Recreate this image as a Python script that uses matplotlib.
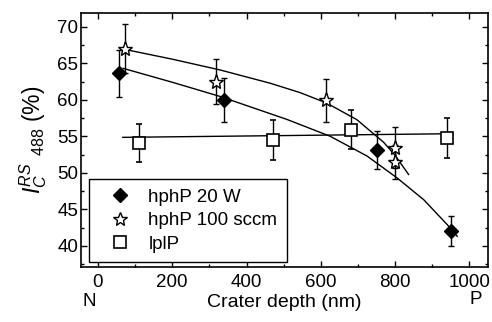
import numpy as np
import matplotlib
matplotlib.use('Agg')
import matplotlib.pyplot as plt
from matplotlib.ticker import MultipleLocator
from matplotlib.lines import Line2D

plt.rcParams['font.family'] = ['Liberation Sans', 'DejaVu Sans']
plt.rcParams['mathtext.fontset'] = 'custom'
plt.rcParams['mathtext.rm'] = 'Liberation Sans'
plt.rcParams['mathtext.it'] = 'Liberation Sans:italic'

# hphP 20 W (filled diamonds)
x_w = [57, 340, 751, 949]
y_w = [63.6, 60.0, 53.1, 42.0]
e_w = [3.2, 3.0, 2.6, 2.1]

# hphP 100 sccm (open stars)
x_s = [73, 318, 615, 800, 800]
y_s = [67.0, 62.5, 59.9, 53.4, 51.5]
e_s = [3.4, 3.1, 3.0, 2.8, 2.3]

# lplP (open squares)
x_l = [111, 470, 680, 940]
y_l = [54.1, 54.5, 55.9, 54.8]
e_l = [2.6, 2.7, 2.7, 2.75]

# fit curves
fx_w = [68, 200, 329, 509, 625, 724, 805, 877, 940, 967]
fy_w = [64.3, 62.4, 60.45, 57.3, 55.0, 52.3, 49.3, 46.3, 42.9, 41.3]
fx_s = [77, 200, 329, 464, 544, 616, 697, 769, 800, 836]
fy_s = [66.85, 65.56, 64.08, 62.26, 60.98, 59.54, 57.27, 54.17, 52.37, 49.77]
fx_l = [67, 955]
fy_l = [54.85, 55.35]

fig = plt.figure(figsize=(4.92, 3.22), dpi=100)
ax = fig.add_axes([0.165, 0.171, 0.827, 0.789])

ax.plot(fx_w, fy_w, 'k-', lw=1)
ax.plot(fx_s, fy_s, 'k-', lw=1)
ax.plot(fx_l, fy_l, 'k-', lw=1)

eb = dict(ecolor='k', elinewidth=1, capsize=2, capthick=1, linestyle='none')
ax.errorbar(x_w, y_w, yerr=e_w, marker='D', color='k', mfc='k', ms=7, **eb)
ax.errorbar(x_s, y_s, yerr=e_s, marker='*', color='k', mfc='white', ms=11, mew=1, **eb)
ax.errorbar(x_l, y_l, yerr=e_l, marker='s', color='k', mfc='white', ms=9, mew=1.2, **eb)

ax.set_xlim(-45, 1050)
ax.set_ylim(37.1, 71.9)
ax.xaxis.set_major_locator(MultipleLocator(200))
ax.xaxis.set_minor_locator(MultipleLocator(100))
ax.yaxis.set_major_locator(MultipleLocator(5))
ax.yaxis.set_minor_locator(MultipleLocator(2.5))
ax.tick_params(which='both', direction='in', top=True, right=True, width=1)
ax.tick_params(which='major', length=4, labelsize=13.5)
ax.tick_params(axis='y', pad=2)
ax.tick_params(axis='x', pad=5)
ax.tick_params(which='minor', length=2)
for s in ax.spines.values():
    s.set_linewidth(1.2)

ax.set_xlabel('Crater depth (nm)', fontsize=14, labelpad=2)
ax.set_ylabel(r'$I_{C}^{RS}{}_{\;\;488}$ (%)', fontsize=16.5, labelpad=6)
ax.text(-22, -0.135, 'N', transform=ax.get_xaxis_transform(), ha='center', va='center', fontsize=13.5)
ax.text(1016, -0.127, 'P', transform=ax.get_xaxis_transform(), ha='center', va='center', fontsize=13.5)

handles = [
    Line2D([], [], ls='none', marker='D', color='k', ms=7),
    Line2D([], [], ls='none', marker='*', color='k', mfc='white', ms=10, mew=1),
    Line2D([], [], ls='none', marker='s', color='k', mfc='white', ms=8, mew=1.2),
]
labels = ['hphP 20 W', 'hphP 100 sccm', 'lplP']
leg = ax.legend(handles, labels, loc='lower left', bbox_to_anchor=(0.0197, 0.0197),
                borderaxespad=0, fontsize=13.5, frameon=True, fancybox=False,
                edgecolor='k', framealpha=1, handlelength=2.3, handletextpad=0.35,
                labelspacing=0.33, borderpad=0.5)
leg.get_frame().set_linewidth(1)

fig.savefig('out.png', dpi=100)
